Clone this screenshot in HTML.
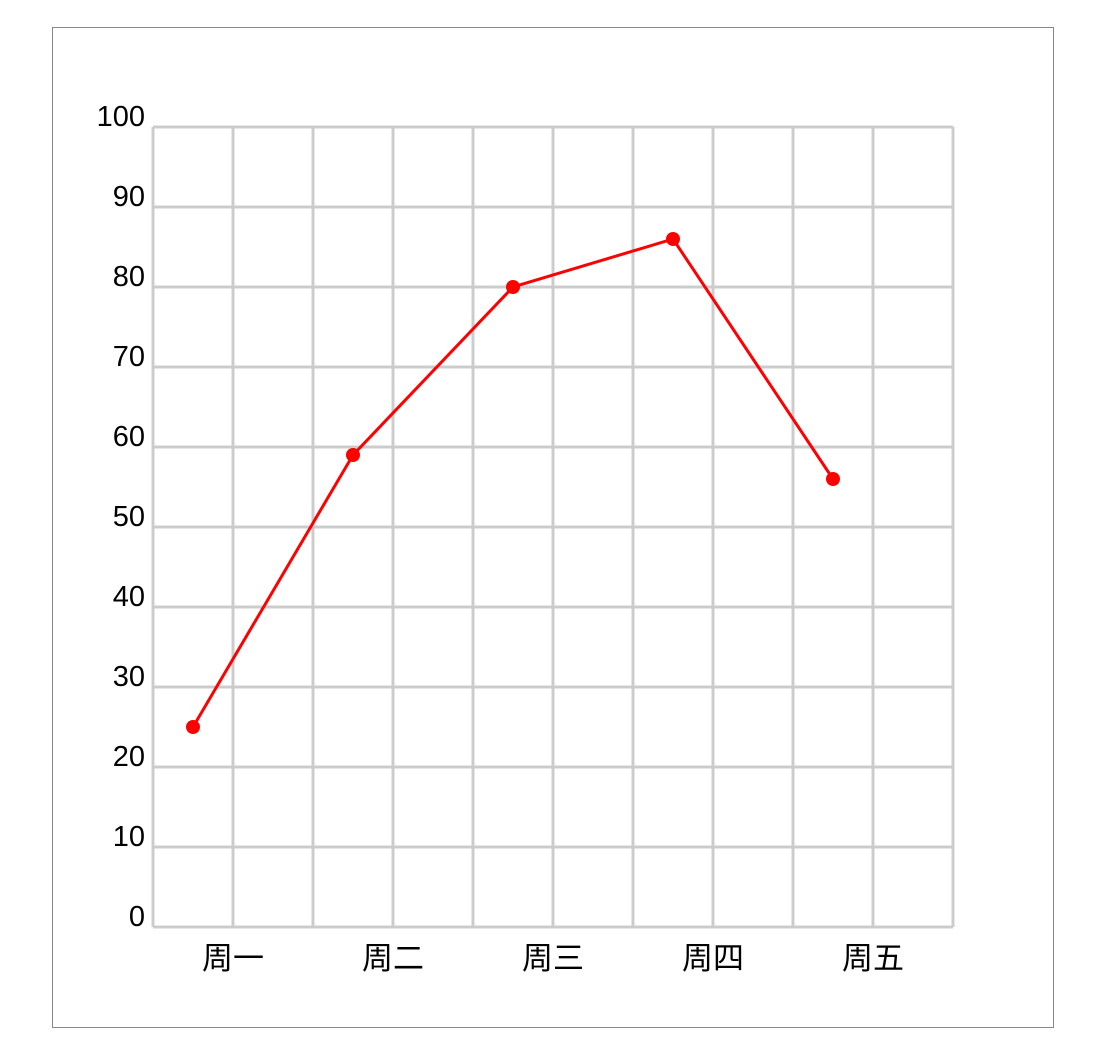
<!DOCTYPE html>
<html><head><meta charset="utf-8">
<style>
html,body{margin:0;padding:0;background:#fff;width:1106px;height:1046px;overflow:hidden}
#frame{position:absolute;left:52px;top:27px;width:1000px;height:999px;border:1px solid #888;}
svg{position:absolute;left:0;top:0}
text{font-family:"Liberation Sans","Noto Sans CJK SC",sans-serif;fill:#000}
</style></head><body>
<div id="frame"></div>
<svg id="chart" width="1106" height="1046"></svg>
<script>
const categories=["周一","周二","周三","周四","周五"];
const values=[25,59,80,86,56];
const yTicks=[0,10,20,30,40,50,60,70,80,90,100];
const NS="http://www.w3.org/2000/svg";
const svg=document.getElementById('chart');
const L=153,T=127,W=800,H=800;
function y(v){return T+H-(v/100)*H;}
function x(i){return L+40+i*160;}
function mk(t,a){const e=document.createElementNS(NS,t);for(const k in a)e.setAttribute(k,a[k]);svg.appendChild(e);return e;}
for(let i=0;i<=10;i++){
  const g=mk('line',{x1:L+i*80,y1:T,x2:L+i*80,y2:T+H,stroke:'#ccc','stroke-width':3});
  
  
}
yTicks.forEach(v=>{
  const g=mk('line',{x1:L,y1:y(v),x2:L+W,y2:y(v),stroke:'#ccc','stroke-width':3});
  
  
  const t=mk('text',{x:145,y:y(v)-1,'text-anchor':'end','font-size':29});
  t.textContent=v;
  
  
});
categories.forEach((c,i)=>{
  const t=mk('text',{x:L+80+i*160,y:969,'text-anchor':'middle','font-size':31});
  t.textContent=c;
  
  
});
const pl=mk('polyline',{points:values.map((v,i)=>x(i)+','+y(v)).join(' '),fill:'none',stroke:'#f00','stroke-width':3});


values.forEach((v,i)=>{
  const c=mk('circle',{cx:x(i),cy:y(v),r:7,fill:'#f00'});
  
  
});
</script>
</body></html>
